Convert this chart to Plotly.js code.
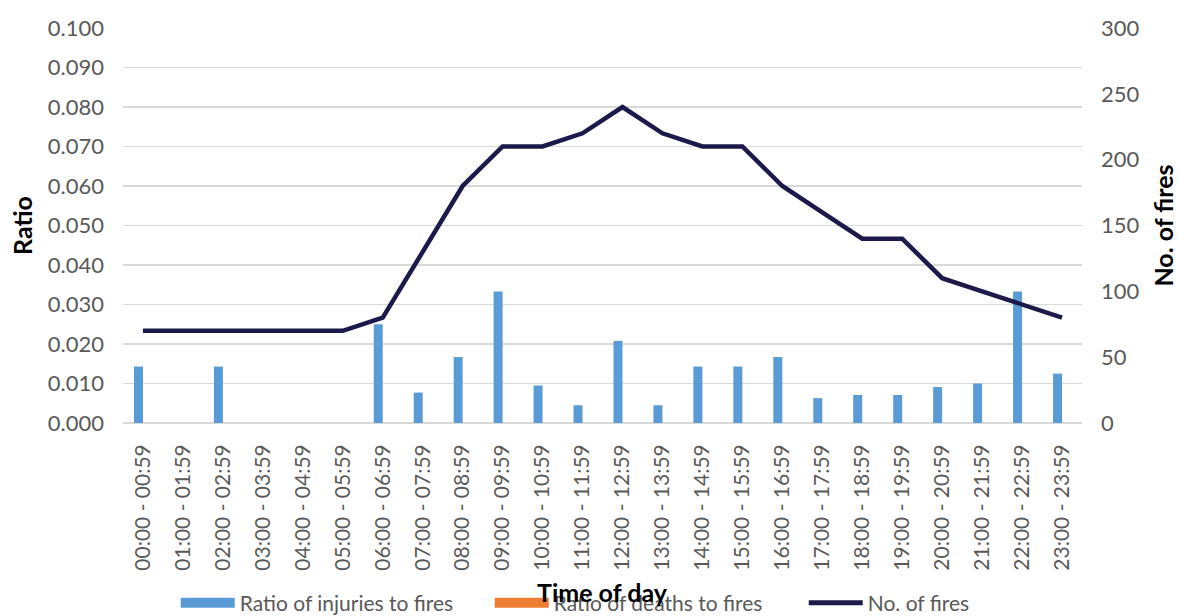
<!DOCTYPE html>
<html>
<head>
<meta charset="utf-8">
<script src="https://cdn.plot.ly/plotly-3.0.1.min.js"></script>
<style>html,body{margin:0;padding:0;background:#fff;}#chart{width:1178px;height:616px;}</style>
</head>
<body>
<div id="chart"></div>
<script>
const timeSlots = ["00:00 - 00:59","01:00 - 01:59","02:00 - 02:59","03:00 - 03:59","04:00 - 04:59","05:00 - 05:59","06:00 - 06:59","07:00 - 07:59","08:00 - 08:59","09:00 - 09:59","10:00 - 10:59","11:00 - 11:59","12:00 - 12:59","13:00 - 13:59","14:00 - 14:59","15:00 - 15:59","16:00 - 16:59","17:00 - 17:59","18:00 - 18:59","19:00 - 19:59","20:00 - 20:59","21:00 - 21:59","22:00 - 22:59","23:00 - 23:59"];
const injuryRatio = [0.0143,0,0.0143,0,0,0,0.025,0.0077,0.0167,0.0333,0.0095,0.0045,0.0208,0.0045,0.0143,0.0143,0.0167,0.0063,0.0071,0.0071,0.0091,0.0100,0.0333,0.0125];
const deathRatio = [0,0,0,0,0,0,0,0,0,0,0,0,0,0,0,0,0,0,0,0,0,0,0,0];
const fires = [70,70,70,70,70,70,80,130,180,210,210,220,240,220,210,210,180,160,140,140,110,100,90,80];

const FONT = "Lato, 'Open Sans', sans-serif";
const GREY = "#595959";
const BLUE = "#5b9bd5", ORANGE = "#ed7d31", NAVY = "#1b1a4a";

const traces = [
  {type:"bar", name:"Ratio of injuries to fires", x:timeSlots, y:injuryRatio, marker:{color:BLUE}, yaxis:"y", showlegend:false, legendgroup:"inj"},
  {type:"bar", name:"Ratio of deaths to fires", x:timeSlots, y:deathRatio, marker:{color:ORANGE}, yaxis:"y", showlegend:false, legendgroup:"dth"},
  {type:"scatter", mode:"lines", name:"No. of fires", x:timeSlots, y:fires, line:{color:NAVY, width:4.5}, yaxis:"y2", showlegend:false, legendgroup:"fir"},
  // legend entries (wide swatches like the original)
  {type:"scatter", mode:"lines", name:"Ratio of injuries to fires", x:[timeSlots[0]], y:[null], line:{color:BLUE, width:14}, yaxis:"y", legendgroup:"inj", hoverinfo:"skip"},
  {type:"scatter", mode:"lines", name:"Ratio of deaths to fires", x:[timeSlots[0]], y:[null], line:{color:ORANGE, width:14}, yaxis:"y", legendgroup:"dth", hoverinfo:"skip"},
  {type:"scatter", mode:"lines", name:"No. of fires", x:[timeSlots[0]], y:[null], line:{color:NAVY, width:5}, yaxis:"y2", legendgroup:"fir", hoverinfo:"skip"}
];

const layout = {
  width:1178, height:616,
  margin:{l:123, r:96, t:28, b:193, autoexpand:false},
  paper_bgcolor:"#fff", plot_bgcolor:"#fff",
  font:{family:FONT, size:21, color:GREY},
  barmode:"group", bargap:0.55, bargroupgap:0,
  showlegend:true,
  legend:{orientation:"h", x:0.055, xanchor:"left", yref:"container", y:0.021, yanchor:"middle",
          font:{family:FONT, size:21, color:GREY}, itemwidth:54, entrywidth:245, traceorder:"normal", bgcolor:"rgba(0,0,0,0)"},
  xaxis:{
    type:"category", tickangle:-90, showgrid:false, showline:false, zeroline:false,
    ticks:"", ticklabelstandoff:16, tickfont:{family:FONT, size:21, color:GREY},
    automargin:false
  },
  yaxis:{
    range:[0,0.1], dtick:0.01, tickformat:".3f", showgrid:true, gridcolor:"#d9d9d9", gridwidth:1.2,
    zeroline:true, zerolinecolor:"#d9d9d9", zerolinewidth:1.2, showline:false, ticks:"",
    ticklabelstandoff:18, tickfont:{family:FONT, size:22, color:GREY},
    title:{text:"<b>Ratio</b>", font:{family:FONT, size:25, color:"#000"}, standoff:8},
    automargin:false, fixedrange:true
  },
  yaxis2:{
    overlaying:"y", side:"right", range:[0,300], dtick:50, showgrid:false, zeroline:false, showline:false, ticks:"",
    ticklabelstandoff:18, tickfont:{family:FONT, size:22, color:GREY},
    title:{text:"<b>No. of fires</b>", font:{family:FONT, size:25, color:"#000"}, standoff:17},
    automargin:false, fixedrange:true
  },
  annotations:[
    {text:"<b>Time of day</b>", xref:"paper", yref:"paper", x:0.5, y:-0.428, xanchor:"center", yanchor:"middle",
     showarrow:false, font:{family:FONT, size:25, color:"#000"}}
  ]
};

Plotly.newPlot("chart", traces, layout, {displayModeBar:false, staticPlot:true});
</script>
</body>
</html>
